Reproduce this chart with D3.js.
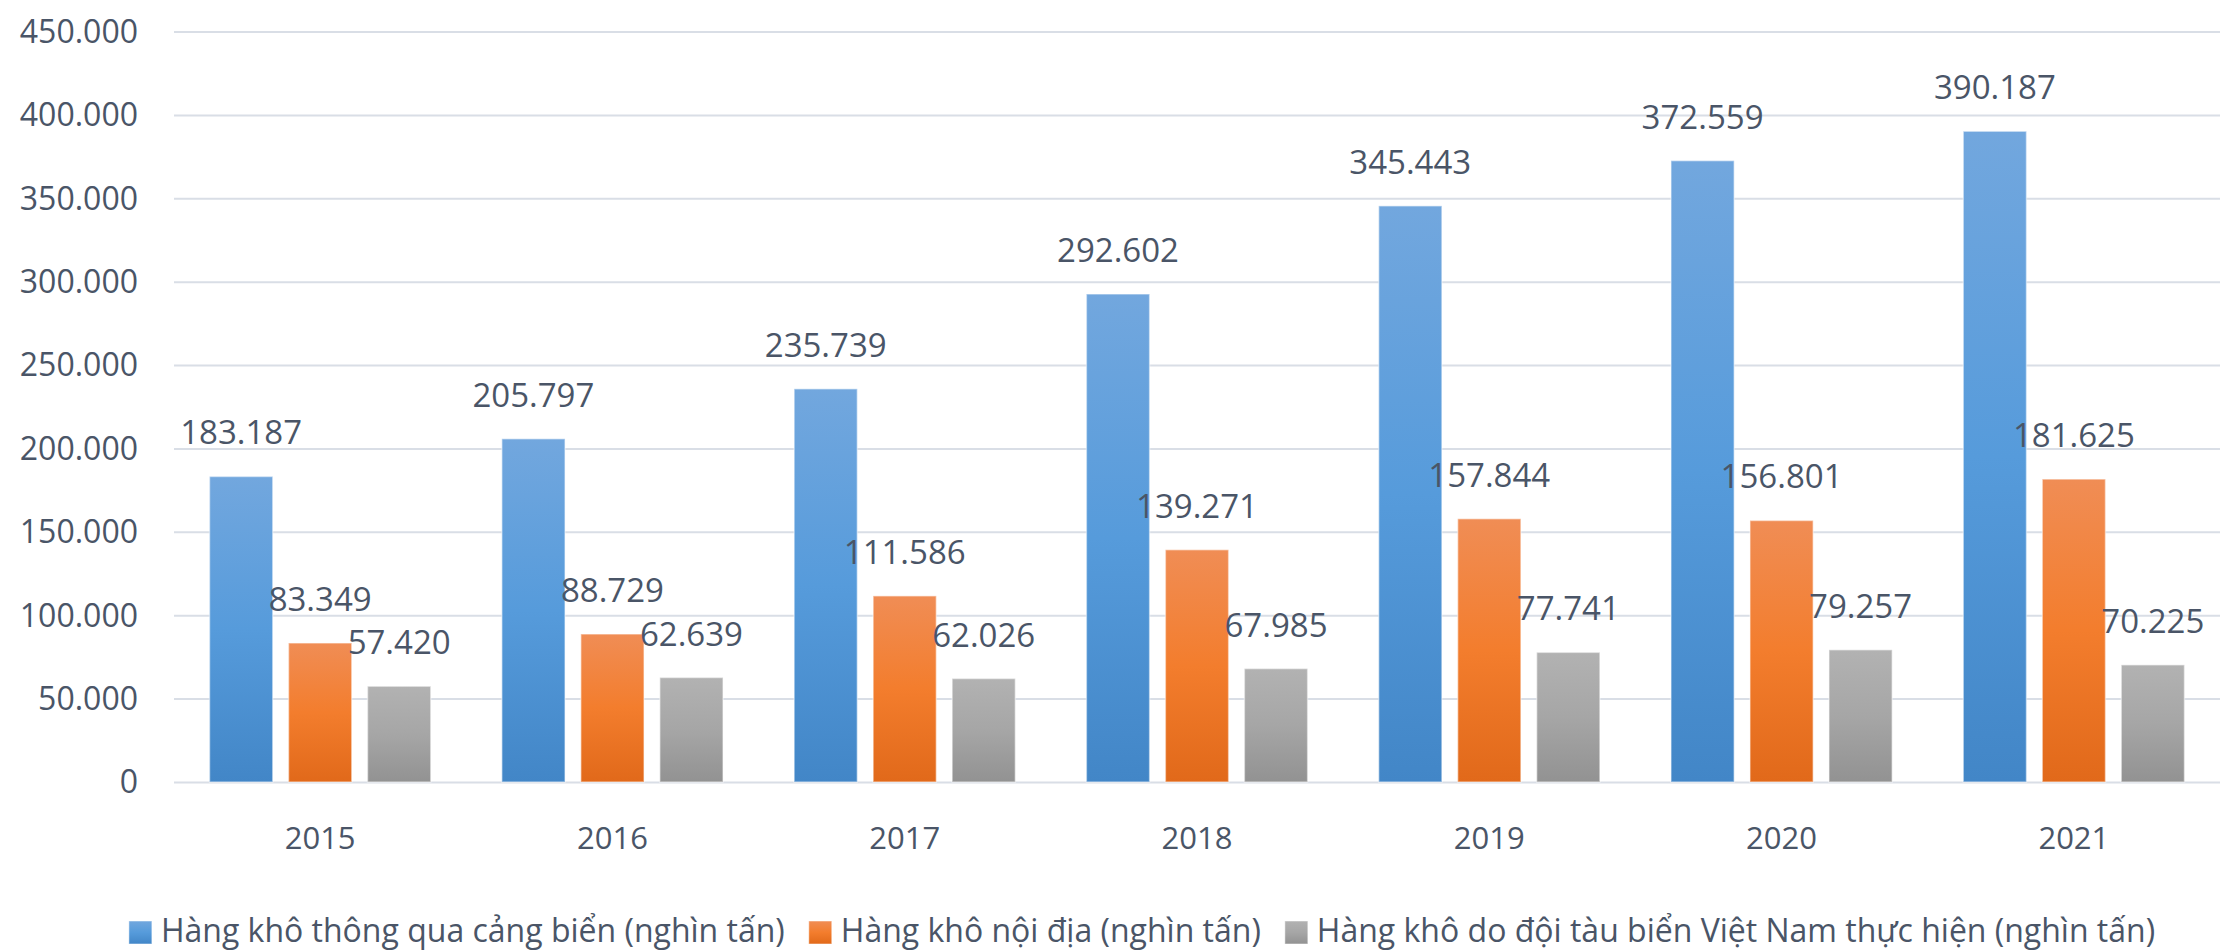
<!DOCTYPE html>
<html><head><meta charset="utf-8">
<script src="https://cdn.jsdelivr.net/npm/d3@7"></script>
<style>html,body{margin:0;padding:0;background:#fff;}svg{display:block;}</style>
</head><body>
<svg id="chart" width="2221" height="952"></svg>
<script>
const years = ["2015","2016","2017","2018","2019","2020","2021"];
const seriesNames = [
  "Hàng khô thông qua cảng biển (nghìn tấn)",
  "Hàng khô nội địa (nghìn tấn)",
  "Hàng khô do đội tàu biển Việt Nam thực hiện (nghìn tấn)"
];
const seaport = [183187, 205797, 235739, 292602, 345443, 372559, 390187];
const domestic = [83349, 88729, 111586, 139271, 157844, 156801, 181625];
const vnFleet = [57420, 62639, 62026, 67985, 77741, 79257, 70225];
const yTicks = [0, 50000, 100000, 150000, 200000, 250000, 300000, 350000, 400000, 450000];

(function () {
const seriesValues = [seaport, domestic, vnFleet];
const gradients = [
  ["#72a7de", "#569bdb", "#4286c7"],
  ["#f08d55", "#f37d2d", "#e1691a"],
  ["#b2b2b2", "#a6a6a6", "#929292"]
];
const textColor = "#4a5567";
const font = "'Open Sans', 'Noto Sans', sans-serif";

const svg = d3.select("#chart");
const defs = svg.append("defs");
gradients.forEach((g, i) => {
  const lg = defs.append("linearGradient").attr("id", "g" + i)
    .attr("x1", 0).attr("y1", 0).attr("x2", 0).attr("y2", 1);
  lg.append("stop").attr("offset", "0%").attr("stop-color", g[0]);
  lg.append("stop").attr("offset", "50%").attr("stop-color", g[1]);
  lg.append("stop").attr("offset", "100%").attr("stop-color", g[2]);
});

const mLeft = 174, mRight = 2220, mTop = 31.5, mBottom = 782;
const x = d3.scaleBand().domain(years).range([mLeft, mRight]).paddingInner(0).paddingOuter(0);
const x1 = d3.scaleBand().domain([0,1,2]).range([0, x.bandwidth()]).paddingInner(0.2).paddingOuter(0.45);
const y = d3.scaleLinear().domain([0, 450000]).range([mBottom, mTop]);

const locale = d3.formatLocale({decimal: ",", thousands: ".", grouping: [3], currency: ["", ""]});
const fmt = locale.format(",d");

const yAxis = d3.axisLeft(y).tickValues(yTicks).tickSize(-(mRight - mLeft)).tickFormat(fmt).tickPadding(36);
const ya = svg.append("g").attr("transform", `translate(${mLeft},0)`).call(yAxis);
ya.select(".domain").remove();
ya.selectAll(".tick line").attr("stroke", "#d9dee6").attr("stroke-width", 2);
ya.selectAll(".tick text").attr("fill", textColor).attr("font-family", font).attr("font-size", 32).attr("dy", "0.34em");

const xAxis = d3.axisBottom(x).tickSize(0).tickPadding(0);
const xa = svg.append("g").attr("transform", `translate(0,${mBottom})`).call(xAxis);
xa.select(".domain").remove();
xa.selectAll(".tick text").attr("fill", textColor).attr("font-family", font).attr("font-size", 31).attr("y", 67).attr("dy", 0);

const groups = svg.append("g").selectAll("g").data(years).join("g")
  .attr("transform", d => `translate(${x(d)},0)`);
seriesValues.forEach((vals, si) => {
  groups.append("rect")
    .attr("x", x1(si))
    .attr("width", x1.bandwidth())
    .attr("y", (d, i) => y(vals[i]))
    .attr("height", (d, i) => mBottom - y(vals[i]))
    .attr("fill", `url(#g${si})`)
    .attr("stroke", "rgba(255,255,255,0.45)")
    .attr("stroke-width", 1.5);
});
seriesValues.forEach((vals, si) => {
  groups.append("text")
    .attr("x", x1(si) + x1.bandwidth() / 2)
    .attr("y", (d, i) => y(vals[i]) - 32)
    .attr("text-anchor", "middle")
    .attr("fill", textColor)
    .attr("font-family", font)
    .attr("font-size", 33)
    .text((d, i) => fmt(vals[i]));
});

const legend = svg.append("g");
const sq = 23, gapSq = 9, gapItem = 24;
const legFont = 32;
const items = seriesNames.map((name, i) => {
  const g = legend.append("g");
  g.append("rect").attr("width", sq).attr("height", sq).attr("y", -sq + 2).attr("fill", `url(#g${i})`)
    .attr("stroke", "rgba(255,255,255,0.5)").attr("stroke-width", 1);
  const t = g.append("text").attr("x", sq + gapSq).attr("fill", textColor)
    .attr("font-family", font).attr("font-size", legFont).text(name);
  return {g, w: sq + gapSq + t.node().getComputedTextLength()};
});
const totalW = d3.sum(items, d => d.w) + gapItem * (items.length - 1);
let cx = 1142 - totalW / 2;
items.forEach(it => { it.g.attr("transform", `translate(${cx},942)`); cx += it.w + gapItem; });
})();
</script>
</body></html>
